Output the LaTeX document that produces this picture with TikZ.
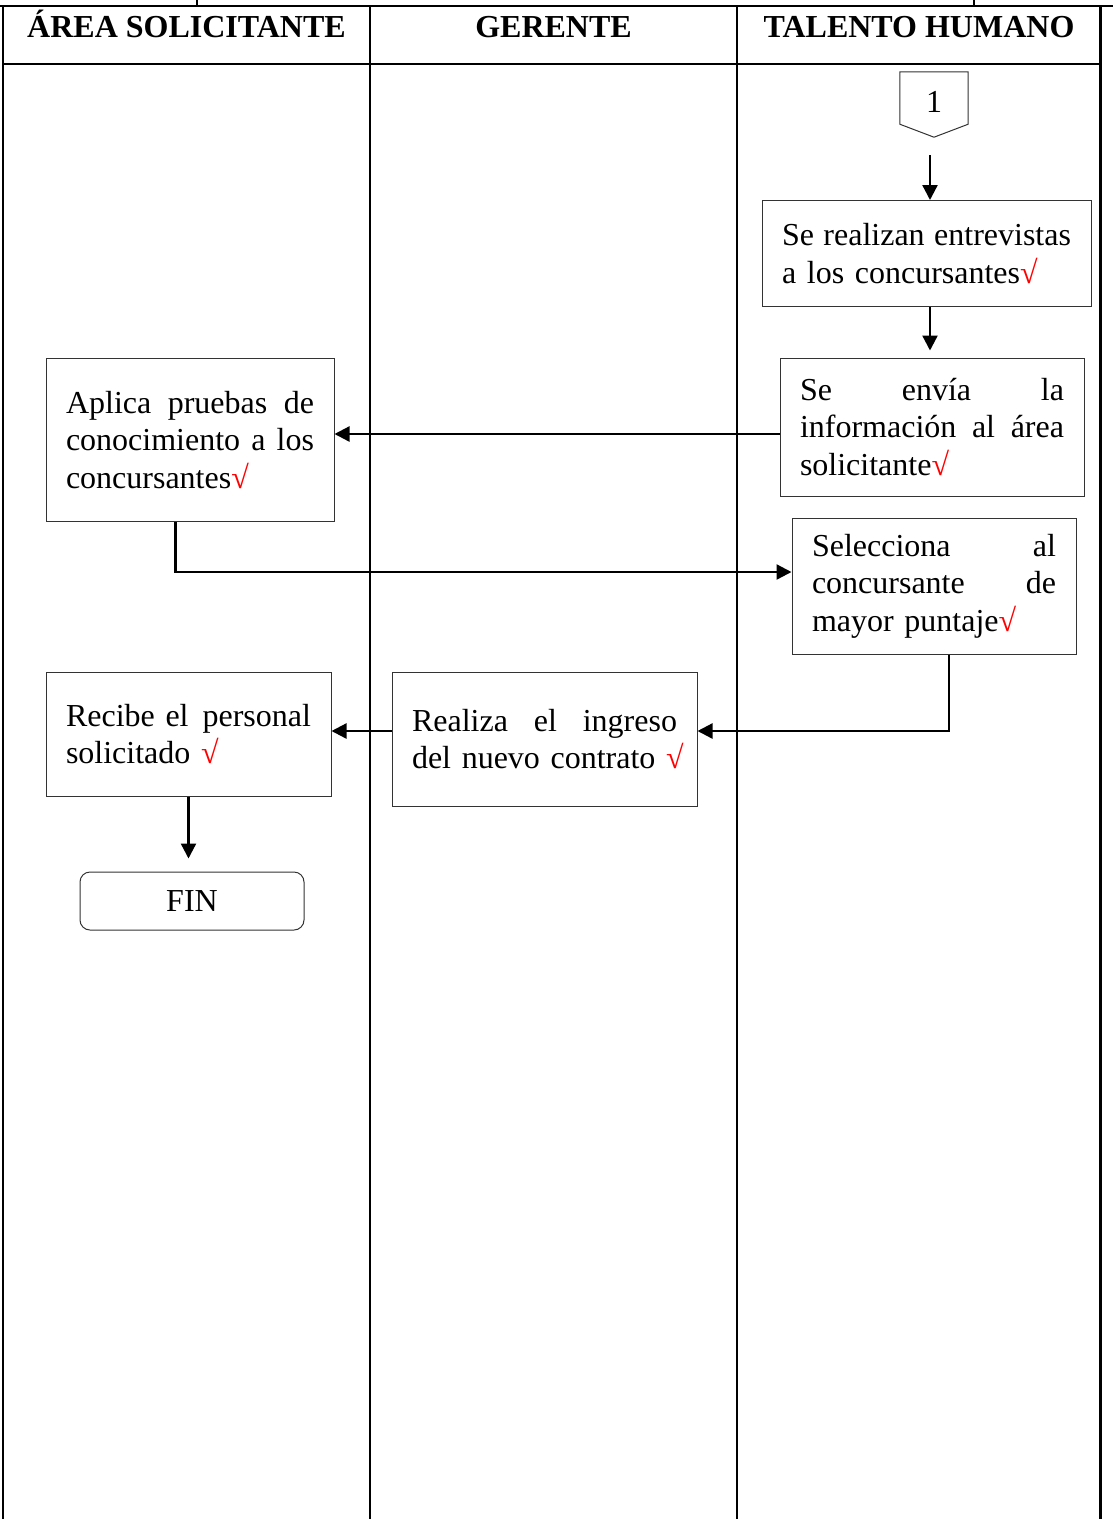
\documentclass[tikz,border=0pt]{standalone}
\usepackage{fontspec}
\setmainfont{Liberation Serif}
\usetikzlibrary{arrows.meta,calc}

\tikzset{
  lane/.style={line width=2.2pt, line cap=rect},
  stepbox/.style={draw=black!80, line width=1pt, rectangle, inner sep=0pt,
    align=left, font=\fontsize{32}{37.5}\selectfont},
  endbox/.style={draw=black!80, line width=1pt, rectangle, rounded corners=10pt,
    inner sep=0pt, font=\fontsize{32}{37.5}\selectfont},
  head/.style={anchor=base, inner sep=0pt, font=\fontsize{32}{37.5}\selectfont\bfseries},
  arr/.style={line width=2.3pt, -{Triangle[length=15pt,width=15pt]}},
}
\newcommand{\ok}{{\color{red}√}}

\begin{document}
\begin{tikzpicture}[x=1pt,y=-1pt]
\useasboundingbox (0,0) rectangle (1113,1519);

% swimlane table
\draw[line width=2.6pt] (0,6) -- (1113,6);
\draw[line width=2pt] (197,0) -- (197,6);
\draw[line width=2pt] (974,0) -- (974,6);
\draw[lane] (3,6) -- (3,1519);
\draw[lane] (370,6) -- (370,1519);
\draw[lane] (737,6) -- (737,1519);
\draw[lane] (1100.5,6) -- (1100.5,1519);
\draw[lane] (3,64) -- (1100.5,64);

\node[head] (h1) at (186.5,37) {ÁREA SOLICITANTE};
\node[head] (h2) at (553.5,37) {GERENTE};
\node[head] (h3) at (919,37) {TALENTO HUMANO};

% off-page connector
\node[minimum width=68pt, minimum height=65pt, inner sep=0pt] (c1) at (934,104.5) {};
\node[inner sep=0pt, font=\fontsize{32}{37.5}\selectfont] (c1t) at (934,102) {1};
\draw[draw=black!80, line width=1pt]
  (c1.north west) -- (c1.north east) -- ([yshift=13pt]c1.south east)
  -- (c1.south) -- ([yshift=13pt]c1.south west) -- cycle;
\coordinate (a1) at (930,155);

% process steps
\node[stepbox, minimum width=329pt, minimum height=106pt, text width=289pt] (b1) at (926.5,253.5)
  {Se\hfill realizan\hfill entrevistas\\a los concursantes\ok};
\node[stepbox, minimum width=304pt, minimum height=138pt, text width=264pt] (b2) at (932,427)
  {Se\hfill envía\hfill la\\información\hfill al\hfill área\\solicitante\ok};
\node[stepbox, minimum width=288pt, minimum height=163pt, text width=248pt] (b3) at (190,440)
  {Aplica\hfill pruebas\hfill de\\conocimiento\hfill a\hfill los\\concursantes\ok};
\node[stepbox, minimum width=284pt, minimum height=136pt, text width=244pt] (b4) at (934,586)
  {Selecciona\hfill al\\concursante\hfill de\\mayor puntaje\ok};
\node[stepbox, minimum width=305pt, minimum height=134pt, text width=265pt] (b5) at (544.5,739)
  {Realiza\hfill el\hfill ingreso\\\mbox{del nuevo contrato \ok}};
\node[stepbox, minimum width=285pt, minimum height=124pt, text width=245pt] (b6) at (188.5,734)
  {Recibe el\hfill personal\\solicitado \ok};
\node[endbox, minimum width=224pt, minimum height=58pt] (fin) at (192,901) {FIN};

% connectors
\draw[arr] (a1) -- (a1 |- b1.north);
\draw[arr, shorten >=7pt] (b1.south -| a1) -- (b2.north -| a1);
\draw[arr] ([yshift=-7pt]b2.west) -- ([yshift=-7pt]b2.west -| b3.east);
\draw[arr] ([xshift=-14.5pt]b3.south) |- ([yshift=14pt]b4.west);
\draw[arr] ([xshift=15pt]b4.south) |- ([yshift=8pt]b5.east);
\draw[arr] ([yshift=8pt]b5.west) -- ([yshift=8pt]b5.west -| b6.east);
\draw[arr, shorten >=13pt] (b6.south) -- (b6.south |- fin.north);
\end{tikzpicture}
\end{document}
